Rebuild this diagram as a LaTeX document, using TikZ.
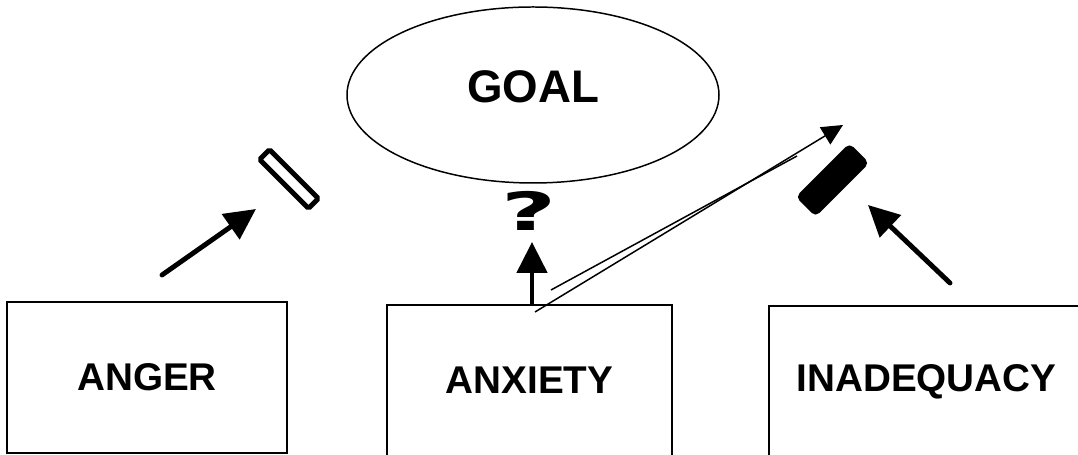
\documentclass[tikz,border=0pt]{standalone}
\usepackage{fontspec}
\setmainfont{Liberation Sans}
\newfontfamily\symfont{DejaVu Sans}
\usetikzlibrary{arrows.meta, calc, positioning, shapes.geometric}

\begin{document}
\begin{tikzpicture}[
    font=\bfseries\fontsize{22}{26}\selectfont,
    line width=0.85pt,
    box/.style={draw, rectangle, minimum height=3.02cm, inner sep=0pt},
    bigarrow/.style={line width=2.8pt, line cap=round, -{Triangle[length=0.62cm, width=0.6cm]}},
    thinarrow/.style={line width=0.85pt, -{Triangle[length=0.42cm, width=0.4cm]}},
]

% page frame
\useasboundingbox (0,0) rectangle (21.56,9.10);
\clip (0,0) rectangle (21.56,9.10);

%============================================================
%  Boxes
%============================================================
\node[box, minimum width=5.6cm] (anger)   at (2.94,1.55)  {ANGER};
\node[box, minimum width=5.7cm] (anxiety) at (10.59,1.49) {ANXIETY};
\node[box, minimum width=6.3cm] (inadeq)  at (18.53,1.47) {INADEQUACY};

%============================================================
%  Goal
%============================================================
\node[draw, ellipse, minimum width=7.44cm, minimum height=3.52cm, inner sep=0pt] (goal) at (10.66,7.2) {};
\node[font=\bfseries\fontsize{26}{30}\selectfont] (goaltxt) at ($(goal.center)+(0,0.16)$) {GOAL};

% --- blocks in front of the goal ---
\node[draw, line width=2.8pt, rounded corners=1pt, minimum width=1.38cm,
      minimum height=0.28cm, inner sep=0pt, rotate=-45] (openblock) at (5.78,5.52) {};
\node[fill, rounded corners=3pt, minimum width=1.52cm, minimum height=0.56cm,
      inner sep=0pt, rotate=45] (fullblock) at (16.65,5.50) {};

% --- question mark ---
\node[font=\symfont\bfseries\fontsize{30}{30}\selectfont] (qmark) at (10.58,4.88) {\scalebox{1.8}[1]{?}};

%============================================================
%  Arrows
%============================================================
\coordinate (angerTail) at (3.24,3.60);
\coordinate (angerTip)  at (5.12,4.92);
\coordinate (upTail)    at (10.64,3.04);
\coordinate (upTip)     at (10.64,4.26);
\coordinate (inadTail)  at (19.00,3.44);
\coordinate (inadTip)   at (17.36,5.00);

\draw[bigarrow] (angerTail) -- (angerTip);
\draw[bigarrow] (upTail) -- (upTip);
\draw[bigarrow] (inadTail) -- (inadTip);

% --- thin pair out of anxiety ---
\coordinate (linkTail) at (10.70,2.86);
\coordinate (linkTip)  at (16.86,6.60);
\coordinate (lineA)    at (11.02,3.30);
\coordinate (lineB)    at (15.94,5.98);

\draw[thinarrow] (linkTail) -- (linkTip);
\draw (lineA) -- (lineB);

\end{tikzpicture}
\end{document}
